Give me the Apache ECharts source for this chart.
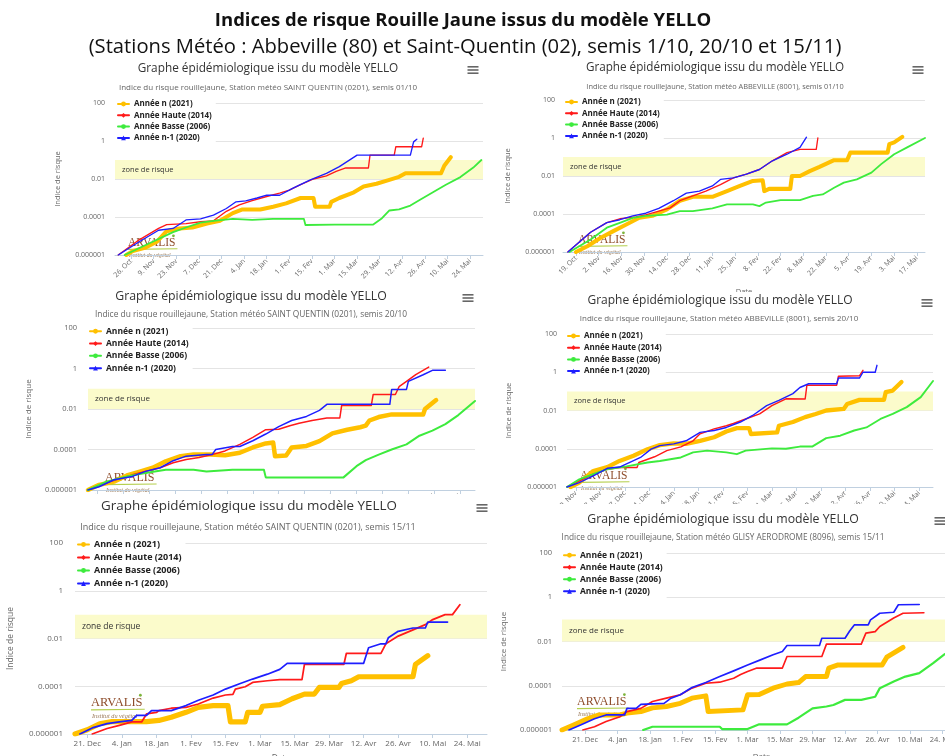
<!DOCTYPE html>
<html><head><meta charset="utf-8">
<script src="https://cdn.jsdelivr.net/npm/echarts@6/dist/echarts.min.js"></script>
<style>
html,body{margin:0;padding:0;background:#fff;}
body{width:945px;height:756px;overflow:hidden;position:relative;}
.clip{position:absolute;overflow:hidden;background:#fff;}
.inner{position:absolute;width:945px;height:756px;}
</style></head><body>
<script>
// ---------- texts ----------
const mainTitle = 'Indices de risque Rouille Jaune issus du modèle YELLO';
const mainSubtitle = '(Stations Météo : Abbeville (80) et Saint-Quentin (02), semis 1/10, 20/10 et 15/11)';
const chartTitle = 'Graphe épidémiologique issu du modèle YELLO';
const subtitles = [
  'Indice du risque rouillejaune, Station météo SAINT QUENTIN (0201), semis 01/10',
  'Indice du risque rouillejaune, Station météo ABBEVILLE (8001), semis 01/10',
  'Indice du risque rouillejaune, Station météo SAINT QUENTIN (0201), semis 20/10',
  'Indice du risque rouillejaune, Station météo ABBEVILLE (8001), semis 20/10',
  'Indice du risque rouillejaune, Station météo SAINT QUENTIN (0201), semis 15/11',
  'Indice du risque rouillejaune, Station météo GLISY AERODROME (8096), semis 15/11'
];
const seriesNames = ['Année n (2021)', 'Année Haute (2014)', 'Année Basse (2006)', 'Année n-1 (2020)'];
const axisNameY = 'Indice de risque';
const axisNameX = 'Date';
const zoneLabel = 'zone de risque';
const riskZone = [0.01, 0.1];
const monthsFr = ['Jan','Fev','Mar','Avr','Mai','Juin','Juil','Aout','Sep','Oct','Nov','Dec'];
const logoName = 'ARVALIS';
const logoTag = 'Institut du végétal';

// ---------- tick dates (MM-DD, season 2020/2021) ----------
const ticksOct26 = ['10-26','11-09','11-23','12-07','12-21','01-04','01-18','02-01','02-15','03-01','03-15','03-29','04-12','04-26','05-10','05-24'];
const ticksOct19 = ['10-19','11-02','11-16','11-30','12-14','12-28','01-11','01-25','02-08','02-22','03-08','03-22','04-05','04-19','05-03','05-17'];
const ticksDec21 = ['12-21','01-04','01-18','02-01','02-15','03-01','03-15','03-29','04-12','04-26','05-10','05-24'];

// ---------- data: [MM-DD, risk index] ----------
// Panel 1 : Saint-Quentin, semis 01/10
const p1_n = [['10-23',1e-6],['10-27',1.6e-6],['11-04',2.5e-6],['11-11',5e-6],['11-17',1.8e-5],['11-25',2.5e-5],['12-03',2.8e-5],['12-12',4.5e-5],['12-20',6.3e-5],['12-28',1.6e-4],['01-03',2.5e-4],['01-14',2.5e-4],['01-22',3.5e-4],['01-30',5.2e-4],['02-08',1e-3],['02-16',1e-3],['02-17',3.5e-4],['02-26',3.5e-4],['02-27',6.3e-4],['03-04',1e-3],['03-13',2e-3],['03-19',4e-3],['03-27',5.6e-3],['04-04',9e-3],['04-10',0.013],['04-14',0.02],['05-06',0.02],['05-08',0.05],['05-12',0.14]];
const p1_haute = [['10-18',1e-6],['10-31',6.3e-6],['11-12',2.5e-5],['11-17',4e-5],['11-29',4.5e-5],['12-08',5.6e-5],['12-16',6.3e-5],['12-24',2e-4],['01-01',4.3e-4],['01-09',7.2e-4],['01-18',1.2e-3],['01-26',1.8e-3],['02-01',2.6e-3],['02-08',5e-3],['02-16',0.01],['02-24',0.0145],['03-02',0.025],['03-08',0.038],['03-22',0.038],['03-23',0.18],['04-07',0.18],['04-08',0.5],['04-24',0.5],['04-25',1.4]];
const p1_basse = [['10-22',1e-6],['11-06',4e-6],['11-21',1.6e-5],['11-29',2.8e-5],['12-08',5e-5],['12-16',6.3e-5],['12-28',8e-5],['01-09',7e-5],['01-22',8e-5],['02-10',8e-5],['02-11',3.8e-5],['03-01',4e-5],['03-25',4e-5],['03-30',8e-5],['04-04',2.2e-4],['04-10',2.5e-4],['04-17',4e-4],['04-23',8e-4],['05-01',2e-3],['05-09',5e-3],['05-18',0.0126],['05-26',0.04],['05-31',0.1]];
const p1_n1 = [['10-18',1e-6],['10-31',5e-6],['11-12',2e-5],['11-21',2.5e-5],['11-29',7e-5],['12-08',8e-5],['12-16',1.26e-4],['12-24',2.8e-4],['12-30',6.3e-4],['01-05',7e-4],['01-12',1e-3],['01-18',1.4e-3],['01-26',1.4e-3],['02-03',3.2e-3],['02-14',9e-3],['02-24',0.02],['03-04',0.045],['03-15',0.18],['04-17',0.18],['04-19',0.9],['04-21',1.25]];

// Panel 2 : Abbeville, semis 01/10
const p2_n = [['10-19',1e-6],['10-26',2e-6],['11-03',5.5e-6],['11-11',1.26e-5],['11-19',2.8e-5],['11-27',6.3e-5],['12-05',8e-5],['12-14',1.75e-4],['12-22',5e-4],['12-30',8e-4],['01-11',8e-4],['01-20',1.6e-3],['01-28',3e-3],['02-05',5.5e-3],['02-11',6e-3],['02-12',1.6e-3],['02-15',2.1e-3],['02-28',2.1e-3],['03-01',0.01],['03-06',0.01],['03-12',0.018],['03-18',0.03],['03-27',0.068],['04-04',0.068],['04-06',0.17],['04-29',0.17],['04-30',0.48],['05-03',0.59],['05-08',1.15]];
const p2_haute = [['10-14',1e-6],['10-28',1.1e-5],['11-07',3.5e-5],['11-15',5.6e-5],['11-25',7e-5],['12-01',9e-5],['12-09',1.4e-4],['12-16',2.1e-4],['12-22',5e-4],['12-30',9e-4],['01-07',1.6e-3],['01-16',3.5e-3],['01-24',8e-3],['02-01',0.0126],['02-09',0.022],['02-17',0.063],['02-26',0.17],['03-06',0.25],['03-16',0.25],['03-17',1.0]];
const p2_basse = [['10-15',1e-6],['10-28',4.5e-6],['11-07',1.9e-5],['11-15',3.4e-5],['11-23',6.3e-5],['12-01',8e-5],['12-14',9.3e-5],['12-22',1.4e-4],['12-30',1.4e-4],['01-11',2e-4],['01-20',3.2e-4],['02-05',3.2e-4],['02-09',2.6e-4],['02-13',4e-4],['02-22',5.4e-4],['03-06',5.4e-4],['03-14',9e-4],['03-20',1.07e-3],['03-27',2.4e-3],['04-02',4.5e-3],['04-10',6.6e-3],['04-19',0.015],['04-25',0.042],['05-03',0.14],['05-11',0.32],['05-22',1.0]];
const p2_n1 = [['10-14',1e-6],['10-28',1.1e-5],['11-07',3.5e-5],['11-15',5e-5],['11-23',8e-5],['12-01',1.1e-4],['12-09',2e-4],['12-18',5e-4],['12-26',1.26e-3],['01-03',1.6e-3],['01-11',3e-3],['01-16',6.6e-3],['01-24',8e-3],['02-01',0.0126],['02-09',0.022],['02-17',0.063],['02-26',0.14],['03-06',0.32],['03-10',1.1]];

// Panel 3 : Saint-Quentin, semis 20/10
const p3_n = [['11-04',1e-6],['11-10',1.8e-6],['11-18',2.6e-6],['11-25',5.2e-6],['12-02',8e-6],['12-09',1.26e-5],['12-16',2.6e-5],['12-24',4.7e-5],['12-31',5.6e-5],['01-09',5.6e-5],['01-17',5.2e-5],['01-25',6.9e-5],['02-01',1.26e-4],['02-08',2e-4],['02-12',2.2e-4],['02-13',4.7e-5],['02-19',5e-5],['02-22',1.26e-4],['03-02',1.5e-4],['03-09',2.6e-4],['03-16',6.3e-4],['03-24',9.5e-4],['03-31',1.26e-3],['04-03',1.5e-3],['04-05',2.7e-3],['04-10',4e-3],['04-17',5.4e-3],['05-04',5.4e-3],['05-05',0.01],['05-11',0.0275]];
const p3_haute = [['11-04',1e-6],['11-16',2.6e-6],['11-28',5.6e-6],['12-05',8.3e-6],['12-13',1.26e-5],['12-20',2.2e-5],['12-27',3.2e-5],['01-03',4e-5],['01-10',5.6e-5],['01-17',8.5e-5],['01-25',1.8e-4],['02-01',4e-4],['02-08',9.5e-4],['02-15',1e-3],['02-21',1.5e-3],['02-26',2e-3],['03-05',2.7e-3],['03-13',3.6e-3],['03-20',3.6e-3],['03-21',0.015],['04-06',0.015],['04-07',0.052],['04-19',0.052],['04-21',0.126],['04-25',0.23],['04-30',0.5],['05-07',1.17]];
const p3_basse = [['11-04',1e-6],['11-14',2.6e-6],['11-25',4.7e-6],['12-05',6.9e-6],['12-16',1e-5],['12-31',1e-5],['01-07',8.3e-6],['01-21',1e-5],['02-07',1e-5],['02-08',4.2e-6],['03-22',4.2e-6],['03-29',1.5e-5],['04-03',3e-5],['04-10',5.6e-5],['04-17',1e-4],['04-25',1.8e-4],['05-02',4.8e-4],['05-09',8.5e-4],['05-16',1.8e-3],['05-23',5e-3],['06-01',0.025]];
const p3_n1 = [['11-04',1e-6],['11-10',1.45e-6],['11-18',3.2e-6],['11-28',4.7e-6],['12-05',8.3e-6],['12-13',1.26e-5],['12-20',2.8e-5],['12-27',4.7e-5],['01-07',5.6e-5],['01-10',5.6e-5],['01-12',1e-4],['01-21',1.4e-4],['01-25',1.4e-4],['02-01',2.7e-4],['02-08',5.8e-4],['02-15',1.35e-3],['02-22',2.7e-3],['03-02',4.3e-3],['03-09',8.5e-3],['03-13',0.017],['04-16',0.017],['04-17',0.093],['04-25',0.093],['04-26',0.23],['05-04',0.49],['05-09',0.81],['05-16',0.81]];

// Panel 4 : Abbeville, semis 20/10
const p4_n = [['11-06',1e-6],['11-11',1.7e-6],['11-19',6.9e-6],['11-27',1.1e-5],['12-04',2.3e-5],['12-12',4.3e-5],['12-20',9.5e-5],['12-27',1.55e-4],['01-04',1.9e-4],['01-11',1.8e-4],['01-19',2.6e-4],['01-27',4e-4],['02-03',8e-4],['02-09',1.2e-3],['02-16',1.2e-3],['02-17',5.9e-4],['03-04',7.2e-4],['03-05',1.6e-3],['03-13',2.5e-3],['03-20',4.5e-3],['03-26',6.6e-3],['04-01',0.01],['04-11',0.012],['04-13',0.022],['04-20',0.036],['05-04',0.036],['05-05',0.091],['05-09',0.11],['05-14',0.31]];
const p4_haute = [['11-04',1e-6],['11-11',2.1e-6],['11-19',4.7e-6],['11-27',8.5e-6],['12-04',1.05e-5],['12-14',1.05e-5],['12-15',1.9e-5],['12-24',3.8e-5],['12-31',8e-5],['01-08',1.26e-4],['01-15',2.6e-4],['01-19',6e-4],['01-27',1.1e-3],['02-03',1.6e-3],['02-07',2.1e-3],['02-14',3.6e-3],['02-22',6.6e-3],['03-01',0.018],['03-09',0.041],['03-20',0.04],['03-21',0.21],['04-07',0.21],['04-08',0.62],['04-20',0.65],['04-22',1.26]];
const p4_basse = [['11-04',1e-6],['11-11',2.5e-6],['11-19',4.7e-6],['11-27',8.5e-6],['12-08',1.2e-5],['12-20',1.9e-5],['12-27',2.3e-5],['01-08',3.5e-5],['01-15',6.5e-5],['01-23',8e-5],['02-03',6.5e-5],['02-09',5.2e-5],['02-14',8e-5],['03-01',1.05e-4],['03-09',1e-4],['03-17',1.3e-4],['03-24',1.3e-4],['04-01',3.6e-4],['04-09',4.8e-4],['04-17',9e-4],['04-24',1.3e-3],['05-02',3.6e-3],['05-09',6.6e-3],['05-17',0.015],['05-25',0.05],['06-01',0.35]];
const p4_n1 = [['11-04',1e-6],['11-11',1.7e-6],['11-19',3.8e-6],['11-27',9.5e-6],['12-04',1.1e-5],['12-08',1.6e-5],['12-16',3.5e-5],['12-22',9.5e-5],['12-27',1.45e-4],['01-04',1.8e-4],['01-11',2.6e-4],['01-19',7.2e-4],['01-27',9e-4],['02-03',1.3e-3],['02-11',2.5e-3],['02-18',5.5e-3],['02-26',0.018],['03-05',0.034],['03-13',0.076],['03-17',0.16],['03-22',0.25],['04-07',0.25],['04-08',0.5],['04-20',0.5],['04-22',1.0],['04-29',1.0],['04-30',2.3]];

// Panel 5 : Saint-Quentin, semis 15/11
const p5_n = [['12-16',1e-6],['12-21',1.5e-6],['12-26',2.7e-6],['12-31',3.3e-6],['01-14',3.3e-6],['01-19',3.7e-6],['01-24',5e-6],['01-30',8.1e-6],['02-04',1.3e-5],['02-10',1.55e-5],['02-16',1.55e-5],['02-17',3.2e-6],['02-23',3.2e-6],['02-24',8.1e-6],['03-01',8.1e-6],['03-02',1.45e-5],['03-09',1.7e-5],['03-14',3e-5],['03-19',4.7e-5],['03-23',4.7e-5],['03-25',8.9e-5],['04-02',8.9e-5],['04-03',1.3e-4],['04-07',1.7e-4],['04-10',2.5e-4],['05-02',2.5e-4],['05-03',8.3e-4],['05-08',1.9e-3]];
const p5_haute = [['12-23',1e-6],['12-29',1.7e-6],['01-03',2.3e-6],['01-08',3.2e-6],['01-12',3.2e-6],['01-14',6.9e-6],['01-18',8e-6],['01-19',9.5e-6],['01-24',1.2e-5],['01-30',1.3e-5],['02-04',1.8e-5],['02-10',3.2e-5],['02-15',4.3e-5],['02-18',4.6e-5],['02-19',7.6e-5],['02-23',9.5e-5],['02-26',1.45e-4],['03-04',1.7e-4],['03-09',1.9e-4],['03-18',1.9e-4],['03-19',8.3e-4],['04-04',8.3e-4],['04-05',2.4e-3],['04-19',2.4e-3],['04-21',6e-3],['04-26',0.0126],['05-02',0.023],['05-07',0.038],['05-10',0.062],['05-15',0.1],['05-18',0.1],['05-21',0.26]];
const p5_basse = [];
const p5_n1 = [['12-18',1e-6],['12-23',1.8e-6],['12-29',2.7e-6],['01-03',3.2e-6],['01-08',3.7e-6],['01-10',6e-6],['01-14',6e-6],['01-16',9.5e-6],['01-24',9.5e-6],['01-30',1.55e-5],['02-04',2.6e-5],['02-10',4.3e-5],['02-15',7.6e-5],['02-21',1.3e-4],['02-26',2e-4],['03-04',3.2e-4],['03-09',5.1e-4],['03-12',9.1e-4],['04-12',9.1e-4],['04-14',4.1e-3],['04-19',6e-3],['04-21',6e-3],['04-22',0.0107],['04-26',0.02],['05-02',0.0275],['05-07',0.0275],['05-08',0.049],['05-16',0.049]];

// Panel 6 : Glisy Aerodrome, semis 15/11
const p6_n = [['12-11',1e-6],['12-16',1.7e-6],['12-22',3.2e-6],['12-27',4.8e-6],['01-05',4.8e-6],['01-08',5.8e-6],['01-14',6.8e-6],['01-19',1e-5],['01-25',1.15e-5],['01-31',1.6e-5],['02-05',2.75e-5],['02-11',3.5e-5],['02-12',6.8e-6],['02-27',8.1e-6],['03-01',3.9e-5],['03-06',4e-5],['03-12',7.8e-5],['03-18',1.2e-4],['03-23',1.4e-4],['03-26',2.6e-4],['04-04',2.6e-4],['04-05',6.3e-4],['04-09',8.7e-4],['04-28',8.7e-4],['04-30',1.95e-3],['05-07',5.4e-3]];
const p6_haute = [['12-20',1e-6],['12-25',1.4e-6],['12-30',2.4e-6],['01-05',4e-6],['01-08',6.8e-6],['01-14',9.5e-6],['01-19',1.95e-5],['01-25',2.75e-5],['01-31',3.9e-5],['02-05',7.8e-5],['02-11',1.3e-4],['02-17',1.45e-4],['02-23',2.2e-4],['02-26',3.2e-4],['03-01',4.4e-4],['03-05',6.3e-4],['03-16',6.3e-4],['03-18',2.1e-3],['04-02',2.1e-3],['04-04',7.6e-3],['04-19',7.6e-3],['04-21',0.024],['04-25',0.028],['04-27',0.048],['05-03',0.115],['05-07',0.19],['05-16',0.2]];
const p6_basse = [['01-15',1e-6],['01-19',1.4e-6],['02-17',1.4e-6],['02-18',1.1e-6],['03-01',1.1e-6],['03-06',1.8e-6],['03-18',1.8e-6],['03-23',3.6e-6],['03-29',9.5e-6],['04-04',1.15e-5],['04-07',1.35e-5],['04-12',2.3e-5],['04-19',2.3e-5],['04-25',3.2e-5],['04-27',7.8e-5],['05-03',1.55e-4],['05-08',2.6e-4],['05-14',3.7e-4],['05-20',1.05e-3],['05-25',2.7e-3]];
const p6_n1 = [['12-14',1e-6],['12-19',1.7e-6],['12-25',3.2e-6],['12-30',4.8e-6],['01-07',4.8e-6],['01-08',9.5e-6],['01-12',9.5e-6],['01-14',1.45e-5],['01-24',1.6e-5],['01-27',2.75e-5],['01-31',3.9e-5],['02-05',8.3e-5],['02-11',1.4e-4],['02-17',2.6e-4],['02-23',4.7e-4],['03-01',8.7e-4],['03-06',1.4e-3],['03-12',2.5e-3],['03-16',3.5e-3],['03-18',6.6e-3],['04-01',6.6e-3],['04-02',0.014],['04-12',0.014],['04-14',0.03],['04-16',0.056],['04-22',0.056],['04-23',0.095],['04-27',0.19],['05-03',0.21],['05-05',0.46],['05-14',0.47]];

const panelData = [
  [p1_n, p1_haute, p1_basse, p1_n1],
  [p2_n, p2_haute, p2_basse, p2_n1],
  [p3_n, p3_haute, p3_basse, p3_n1],
  [p4_n, p4_haute, p4_basse, p4_n1],
  [p5_n, p5_haute, p5_basse, p5_n1],
  [p6_n, p6_haute, p6_basse, p6_n1]
];
const panelRange = [['10-16','06-01'],['10-11','05-22'],['11-04','06-01'],['11-04','06-01'],['12-16','06-01'],['12-11','06-01']];
const panelTicks = [ticksOct26, ticksOct19, ticksOct26, ticksOct26, ticksDec21, ticksDec21];

// ---------- styles / layout ----------
const FF = "'Open Sans', 'Noto Sans', sans-serif";
const SERIF = "'Liberation Serif', 'DejaVu Serif', serif";
const seriesColors = ['#FFC000', '#FF1A1A', '#3DEB3D', '#1E1EFF'];
const seriesSymbols = ['none', 'diamond', 'circle', 'triangle'];
const baseWidths = [4.5, 1.5, 2, 1.5];

const layout = [
  { clip:[0,58,484,229], g:[115,103,483,255], rot:45, t:[268,69], s:[268,88], m:[473,70],
    fs:{t:11.8,s:8,a:7,n:7.5,l:8,z:7.5,logo:11.5}, lg:[115,97,11.3], yGap:53, yMar:10, xGap:36, logo:[128,243], lw:0.9 },
  { clip:[484,58,461,234], g:[563,100,925,252], rot:45, t:[715,68], s:[715,87], m:[918,70],
    fs:{t:11.7,s:7.4,a:7,n:7.5,l:8,z:7.5,logo:11.5}, lg:[563,95,11.3], yGap:51, yMar:8, xGap:36, logo:[578,240], lw:0.9 },
  { clip:[0,287,484,207], g:[88,328,475,490], rot:45, t:[251,296], s:[251,315], m:[468,298],
    fs:{t:12.3,s:8.4,a:7.5,n:8,l:8.5,z:8,logo:12}, lg:[87,324,12.3], yGap:55, yMar:11, xGap:36, logo:[105,478], lw:1 },
  { clip:[484,292,461,212], g:[567,334,933,487], rot:45, t:[720,301], s:[719,319], m:[927,303],
    fs:{t:12,s:8,a:7,n:7.5,l:8,z:7.5,logo:11.5}, lg:[565,329,11.7], yGap:54, yMar:10, xGap:36, logo:[580,476], lw:0.95 },
  { clip:[0,494,492,262], g:[75,543,487,734], rot:0, t:[249,506], s:[248,527], m:[482,508],
    fs:{t:13.4,s:9,a:8,n:8.5,l:9,z:8.5,logo:12.5}, lg:[75,537,13], yGap:60, yMar:12, xGap:20, logo:[91,703], lw:1.15 },
  { clip:[492,504,453,252], g:[562,553,961,730], rot:0, t:[723,519], s:[723,538], m:[940,521],
    fs:{t:12.3,s:8.3,a:7.5,n:8,l:8.5,z:8,logo:12}, lg:[561,548,12], yGap:54, yMar:10, xGap:23, logo:[577,702], lw:1.1 }
];

// ---------- helpers ----------
function ts(md) {
  const p = md.split('-').map(Number);
  return new Date(p[0] >= 8 ? 2020 : 2021, p[0] - 1, p[1]).getTime();
}
function fmtY(v) {
  const e = Math.round(Math.log10(v));
  return e >= 0 ? String(Math.pow(10, e)) : Math.pow(10, e).toFixed(-e);
}
function fmtX(v) {
  const d = new Date(v);
  return d.getDate() + '. ' + monthsFr[d.getMonth()];
}
function makeHost(clip) {
  const c = document.createElement('div');
  c.className = 'clip';
  c.style.left = clip[0] + 'px'; c.style.top = clip[1] + 'px';
  c.style.width = clip[2] + 'px'; c.style.height = clip[3] + 'px';
  const inner = document.createElement('div');
  inner.className = 'inner';
  inner.style.left = (-clip[0]) + 'px'; inner.style.top = (-clip[1]) + 'px';
  c.appendChild(inner);
  document.body.appendChild(c);
  return echarts.init(inner, null, { renderer: 'canvas', width: 945, height: 756 });
}

// ---------- header ----------
const header = makeHost([0, 0, 945, 58]);
header.setOption({
  animation: false,
  graphic: [
    { type:'text', x:463, y:21, style:{ text: mainTitle, fontFamily: FF, fontSize: 18.5, fontWeight: 'bold', fill:'#111', align:'center', verticalAlign:'middle' } },
    { type:'text', x:465, y:47, style:{ text: mainSubtitle, fontFamily: FF, fontSize: 20.2, fill:'#111', align:'center', verticalAlign:'middle' } }
  ]
});

// ---------- panels ----------
layout.forEach((L, idx) => {
  const chart = makeHost(L.clip);
  const xmin = ts(panelRange[idx][0]), xmax = ts(panelRange[idx][1]);
  const tickVals = panelTicks[idx].map(ts).filter(v => v >= xmin && v <= xmax);
  const series = [{
    type: 'line', name: 'zone', data: [], z: 1, silent: true,
    markArea: {
      silent: true,
      itemStyle: { color: '#FBFBCB' },
      label: { show: true, position: 'insideLeft', formatter: zoneLabel, color: '#333', fontSize: L.fs.z, fontFamily: FF, distance: 7 },
      data: [[{ yAxis: riskZone[0] }, { yAxis: riskZone[1] }]]
    }
  }];
  panelData[idx].forEach((arr, i) => {
    series.push({
      type: 'line', name: seriesNames[i],
      data: arr.map(p => [ts(p[0]), p[1]]),
      showSymbol: false, symbol: seriesSymbols[i], symbolSize: 6,
      lineStyle: { width: baseWidths[i] * L.lw, color: seriesColors[i], cap: 'round', join: 'round' },
      itemStyle: { color: seriesColors[i] },
      z: 3, silent: true
    });
  });
  const [mx, my] = L.m;
  const [lx, ly] = L.logo;
  chart.setOption({
    animation: false,
    backgroundColor: '#fff',
    grid: { left: L.g[0], top: L.g[1], width: L.g[2] - L.g[0], height: L.g[3] - L.g[1], containLabel: false, outerBoundsMode: 'none' },
    legend: {
      data: seriesNames, orient: 'vertical', left: L.lg[0], top: L.lg[1],
      itemWidth: 11, itemHeight: 6, itemGap: L.lg[2] - (L.fs.l + 2),
      padding: [2, 4, 2, 2], backgroundColor: '#fff', selectedMode: false,
      textStyle: { fontSize: L.fs.l, fontWeight: 'bold', color: '#222', fontFamily: FF, lineHeight: L.fs.l + 2 }
    },
    xAxis: {
      type: 'value', min: xmin, max: xmax,
      name: axisNameX, nameLocation: 'middle', nameGap: L.xGap,
      nameTextStyle: { color: '#666', fontSize: L.fs.n, fontFamily: FF },
      axisLine: { show: true, lineStyle: { color: '#C0D0E0', width: 1 } },
      axisTick: { show: true, length: 4, lineStyle: { color: '#C0D0E0' }, customValues: tickVals },
      axisLabel: { customValues: tickVals, formatter: fmtX, rotate: L.rot, margin: L.rot ? 5 : 6, color: '#666', fontSize: L.fs.a, fontFamily: FF, hideOverlap: false },
      splitLine: { show: false }
    },
    yAxis: {
      type: 'log', logBase: 100, min: 1e-6, max: 100, splitNumber: 4,
      name: axisNameY, nameLocation: 'middle', nameGap: L.yGap,
      nameTextStyle: { color: '#666', fontSize: L.fs.n, fontFamily: FF },
      axisLine: { show: false }, axisTick: { show: false },
      axisLabel: { formatter: fmtY, margin: L.yMar, color: '#666', fontSize: L.fs.a, fontFamily: FF },
      splitLine: { show: true, lineStyle: { color: '#E4E4E4', width: 1 } }
    },
    graphic: [
      { type:'text', x:L.t[0], y:L.t[1], z:5, style:{ text: chartTitle, fontFamily: FF, fontSize: L.fs.t, fill:'#333', align:'center', verticalAlign:'middle' } },
      { type:'text', x:L.s[0], y:L.s[1], z:5, style:{ text: subtitles[idx], fontFamily: FF, fontSize: L.fs.s, fill:'#666', align:'center', verticalAlign:'middle' } },
      { type:'rect', z:5, shape:{ x:mx-5.5, y:my-4, width:11, height:1.6 }, style:{ fill:'#666' } },
      { type:'rect', z:5, shape:{ x:mx-5.5, y:my-0.8, width:11, height:1.6 }, style:{ fill:'#666' } },
      { type:'rect', z:5, shape:{ x:mx-5.5, y:my+2.4, width:11, height:1.6 }, style:{ fill:'#666' } },
      { type:'text', x:lx, y:ly, z:0, style:{ text: logoName, fontFamily: SERIF, fontSize: L.fs.logo, fill:'#8E4C2A', align:'left', verticalAlign:'middle' } },
      { type:'circle', z:0, shape:{ cx: lx + L.fs.logo * 3.95, cy: ly - L.fs.logo * 0.62, r: 1.4 }, style:{ fill:'#7DB43A' } },
      { type:'line', z:0, shape:{ x1: lx, y1: ly + L.fs.logo * 0.55, x2: lx + L.fs.logo * 4.3, y2: ly + L.fs.logo * 0.5 }, style:{ stroke:'#B5CF4E', lineWidth: 1.2 } },
      { type:'text', x:lx + 1, y:ly + L.fs.logo * 1.05, z:0, style:{ text: logoTag, fontFamily: SERIF, fontStyle:'italic', fontSize: L.fs.logo * 0.5, fill:'#9A7A5A', align:'left', verticalAlign:'middle' } }
    ],
    series: series
  });
});
</script>
</body></html>
